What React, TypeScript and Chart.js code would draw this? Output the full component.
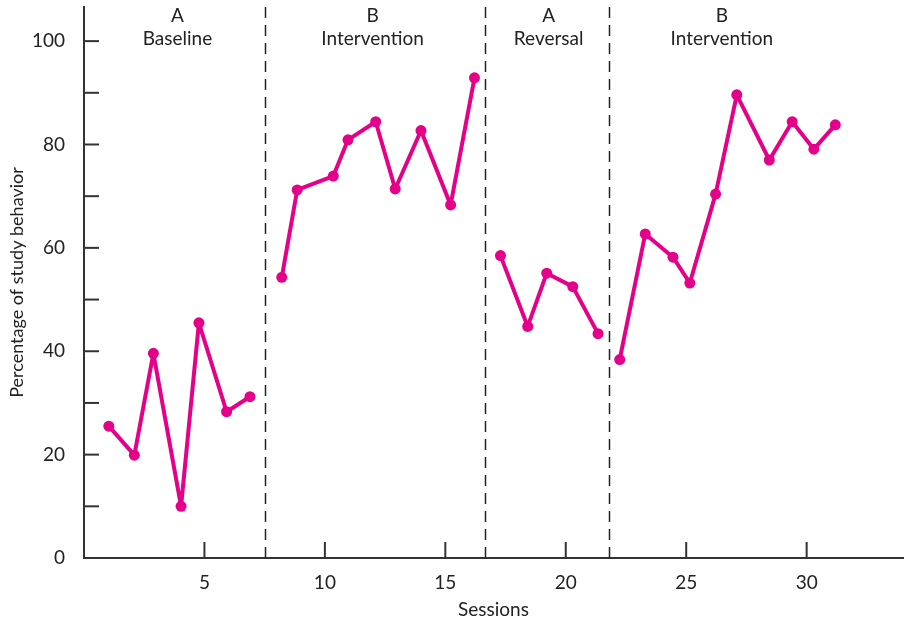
import React, { useEffect, useRef } from "react";
import { Chart, registerables } from "chart.js";

Chart.register(...registerables);

// Sessions (x) and percentage of study behavior (y)
const sessions: number[] = [
  1.03, 2.09, 2.88, 4.03, 4.77, 5.92, 6.89,
  8.21, 8.85, 10.35, 10.96, 12.11, 12.92, 13.99, 15.22, 16.21,
  17.29, 18.42, 19.21, 20.29, 21.34,
  22.24, 23.3, 24.45, 25.15, 26.22, 27.1, 28.45, 29.4, 30.3, 31.19,
];
const percentages: number[] = [
  25.5, 19.9, 39.6, 10.0, 45.5, 28.3, 31.2,
  54.3, 71.2, 73.9, 80.9, 84.4, 71.4, 82.7, 68.3, 92.9,
  58.5, 44.8, 55.1, 52.5, 43.4,
  38.4, 62.7, 58.2, 53.2, 70.4, 89.6, 77.0, 84.4, 79.1, 83.8,
];

// Phase boundaries (session units) and phase labels
const phaseBoundaries: number[] = [7.5, 16.64, 21.79];
const phaseLetters: string[] = ["A", "B", "A", "B"];
const phaseNames: string[] = ["Baseline", "Intervention", "Reversal", "Intervention"];
const phaseLabelAt: number[] = [3.88, 11.98, 19.29, 26.48];

const xTitle = "Sessions";
const yTitle = "Percentage of study behavior";

const FONT = "Lato, 'Noto Sans', sans-serif";
const TEXT = "#222222";
const AXIS = "#333333";
const MAGENTA = "rgb(229, 0, 138)";

const overlay = {
  id: "abOverlay",
  afterDraw(chart: any) {
    const { ctx, chartArea, scales } = chart;
    const xs = scales.x;
    const ys = scales.y;
    ctx.save();
    // dashed phase lines
    ctx.strokeStyle = "#222";
    ctx.lineWidth = 1.5;
    ctx.setLineDash([11, 7]);
    phaseBoundaries.forEach((b) => {
      const px = Math.round(xs.getPixelForValue(b)) + 0.5;
      ctx.beginPath();
      ctx.moveTo(px, chartArea.top);
      ctx.lineTo(px, chartArea.bottom);
      ctx.stroke();
    });
    ctx.setLineDash([]);
    // inward tick marks
    ctx.strokeStyle = AXIS;
    ctx.lineWidth = 2;
    ys.ticks.forEach((t: any) => {
      if (t.value <= 0) return;
      const py = ys.getPixelForValue(t.value);
      ctx.beginPath();
      ctx.moveTo(chartArea.left, py);
      ctx.lineTo(chartArea.left + 15, py);
      ctx.stroke();
    });
    xs.ticks.forEach((t: any) => {
      if (t.value <= 0) return;
      const px = xs.getPixelForValue(t.value);
      ctx.beginPath();
      ctx.moveTo(px, chartArea.bottom);
      ctx.lineTo(px, chartArea.bottom - 16);
      ctx.stroke();
    });
    // phase labels
    ctx.fillStyle = TEXT;
    ctx.font = `19px ${FONT}`;
    ctx.textAlign = "center";
    ctx.textBaseline = "middle";
    phaseLetters.forEach((letter, i) => {
      const px = xs.getPixelForValue(phaseLabelAt[i]);
      ctx.fillText(letter, px, 16);
      ctx.fillText(phaseNames[i], px, 39);
    });
    ctx.restore();
  },
};

function phaseOf(s: number): number {
  let p = 0;
  phaseBoundaries.forEach((b) => {
    if (s > b) p += 1;
  });
  return p;
}

export default function App() {
  const canvasRef = useRef<HTMLCanvasElement | null>(null);

  useEffect(() => {
    document.body.style.margin = "0";
    const canvas = canvasRef.current;
    if (!canvas) return;
    const datasets = phaseLetters.map((_, phase) => ({
      data: sessions
        .map((s, i) => ({ x: s, y: percentages[i] }))
        .filter((pt) => phaseOf(pt.x) === phase),
      borderColor: MAGENTA,
      backgroundColor: MAGENTA,
      borderWidth: 4,
      borderJoinStyle: "round" as const,
      borderCapStyle: "round" as const,
      pointRadius: 5.5,
      pointBorderWidth: 0,
      pointBackgroundColor: MAGENTA,
      tension: 0,
      fill: false,
      clip: false as const,
    }));
    const chart = new Chart(canvas, {
      type: "line",
      data: { datasets },
      options: {
        responsive: false,
        animation: false,
        layout: { autoPadding: false, padding: { top: 7, right: 1, left: 0, bottom: 0 } },
        plugins: { legend: { display: false }, tooltip: { enabled: false } },
        scales: {
          x: {
            type: "linear",
            min: 0,
            max: 34,
            grid: { display: false },
            border: { display: true, color: AXIS, width: 2 },
            ticks: {
              stepSize: 5,
              includeBounds: false,
              padding: 5,
              color: TEXT,
              font: { family: FONT, size: 19 },
              callback: (v: any) => (Number(v) > 0 ? String(v) : ""),
            },
            title: {
              display: true,
              text: xTitle,
              color: TEXT,
              font: { family: FONT, size: 19, lineHeight: 1 },
              padding: { top: 0, bottom: 0 },
            },
            afterFit: (scale: any) => {
              scale.height = 61;
              scale.paddingLeft = 0;
              scale.paddingRight = 0;
            },
          },
          y: {
            type: "linear",
            min: 0,
            max: 106.6,
            grid: { display: false },
            border: { display: true, color: AXIS, width: 2 },
            ticks: {
              stepSize: 10,
              includeBounds: false,
              padding: 11,
              color: TEXT,
              font: { family: FONT, size: 19 },
              callback: (v: any) => (Number(v) % 20 === 0 ? String(v) : ""),
            },
            title: {
              display: true,
              text: yTitle,
              color: TEXT,
              font: { family: FONT, size: 18 },
              padding: { top: 6, bottom: 0 },
            },
            afterFit: (scale: any) => {
              scale.width = 84;
              scale.paddingTop = 0;
              scale.paddingBottom = 0;
            },
          },
        },
      },
      plugins: [overlay],
    });
    return () => chart.destroy();
  }, []);

  return (
    <div style={{ width: 904, height: 619 }}>
      <canvas ref={canvasRef} width={904} height={619} />
    </div>
  );
}
